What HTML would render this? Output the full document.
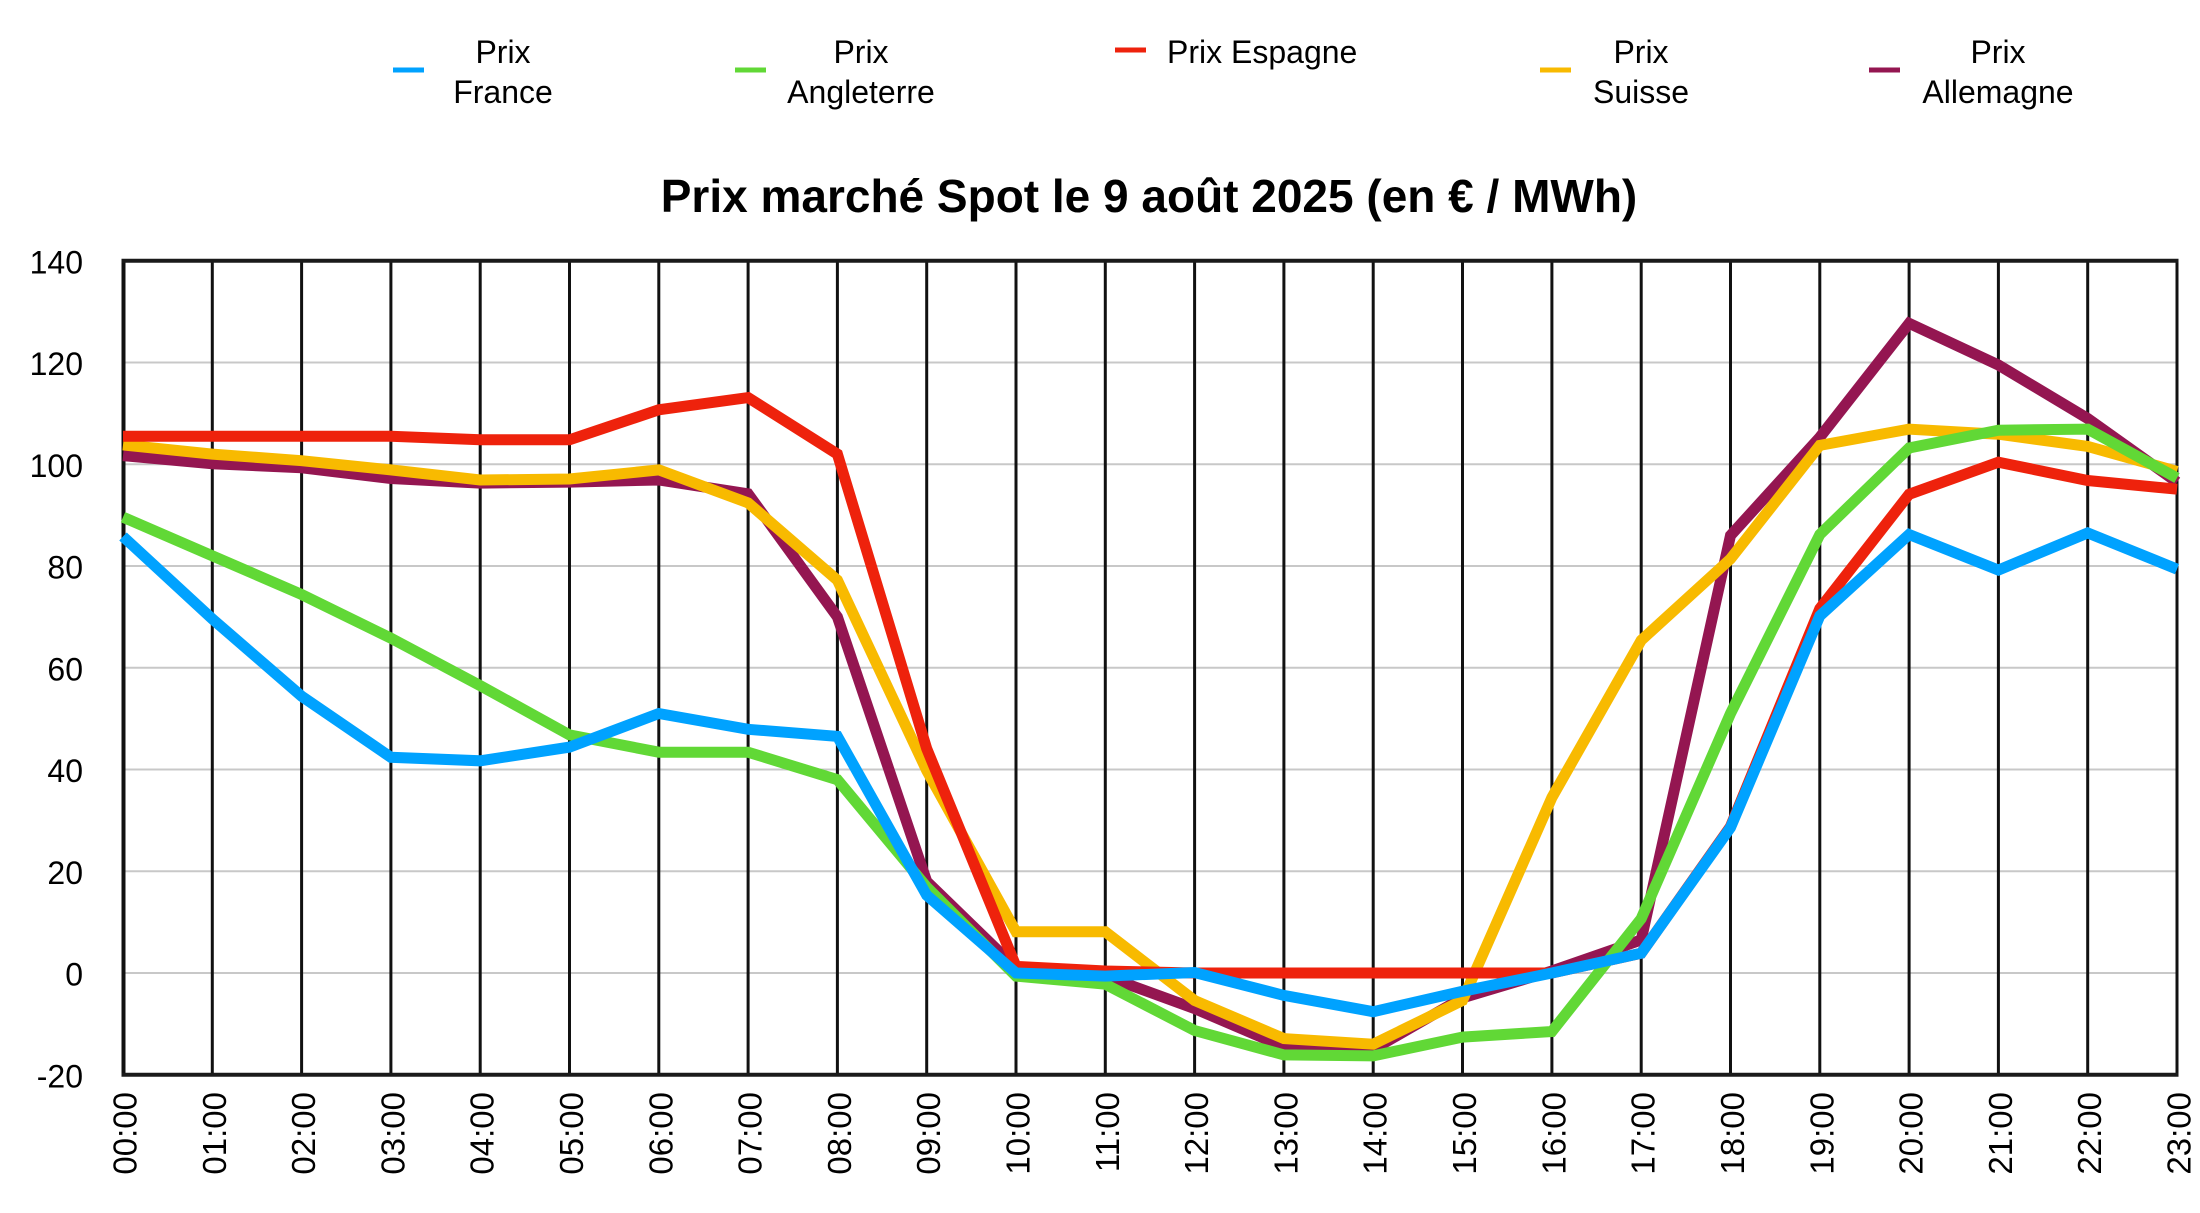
<!DOCTYPE html>
<html><head><meta charset="utf-8"><style>
html,body{margin:0;padding:0;background:#fff;}
svg{display:block;}
text{font-family:"Liberation Sans",Arial,sans-serif;fill:#000;}
</style></head><body>
<svg width="2200" height="1213" viewBox="0 0 2200 1213" xmlns="http://www.w3.org/2000/svg">
<rect width="2200" height="1213" fill="#fff"/>
<!-- Legend -->
<g font-size="32">
  <rect x="393" y="67.5" width="31" height="5" fill="#00A2FF"/>
  <text x="503" y="63" text-anchor="middle">Prix</text>
  <text x="503" y="103" text-anchor="middle">France</text>
  <rect x="735" y="67.5" width="31" height="5" fill="#61D836"/>
  <text x="861" y="63" text-anchor="middle">Prix</text>
  <text x="861" y="103" text-anchor="middle">Angleterre</text>
  <rect x="1115" y="47.5" width="31" height="5" fill="#EE220C"/>
  <text x="1167" y="63">Prix Espagne</text>
  <rect x="1540" y="67.5" width="31" height="5" fill="#F8BA00"/>
  <text x="1641" y="63" text-anchor="middle">Prix</text>
  <text x="1641" y="103" text-anchor="middle">Suisse</text>
  <rect x="1869" y="67.5" width="31" height="5" fill="#941651"/>
  <text x="1998" y="63" text-anchor="middle">Prix</text>
  <text x="1998" y="103" text-anchor="middle">Allemagne</text>
</g>
<!-- Title -->
<text x="1149" y="212" text-anchor="middle" font-size="46" font-weight="bold">Prix marché Spot le 9 août 2025 (en € / MWh)</text>
<!-- Horizontal gridlines -->
<g stroke="#c8c8c8" stroke-width="2">
  <line x1="123" x2="2177" y1="362.5" y2="362.5"/>
  <line x1="123" x2="2177" y1="464.25" y2="464.25"/>
  <line x1="123" x2="2177" y1="566" y2="566"/>
  <line x1="123" x2="2177" y1="667.75" y2="667.75"/>
  <line x1="123" x2="2177" y1="769.5" y2="769.5"/>
  <line x1="123" x2="2177" y1="871.25" y2="871.25"/>
  <line x1="123" x2="2177" y1="973" y2="973"/>
</g>
<!-- Vertical lines -->
<g stroke="#111" stroke-width="3">
  <line x1="123.5" x2="123.5" y1="260" y2="1076" stroke-width="4"/>
  <line x1="212.3" x2="212.3" y1="260" y2="1076"/>
  <line x1="301.6" x2="301.6" y1="260" y2="1076"/>
  <line x1="390.9" x2="390.9" y1="260" y2="1076"/>
  <line x1="480.2" x2="480.2" y1="260" y2="1076"/>
  <line x1="569.5" x2="569.5" y1="260" y2="1076"/>
  <line x1="658.8" x2="658.8" y1="260" y2="1076"/>
  <line x1="748.1" x2="748.1" y1="260" y2="1076"/>
  <line x1="837.4" x2="837.4" y1="260" y2="1076"/>
  <line x1="926.7" x2="926.7" y1="260" y2="1076"/>
  <line x1="1016" x2="1016" y1="260" y2="1076"/>
  <line x1="1105.3" x2="1105.3" y1="260" y2="1076"/>
  <line x1="1194.6" x2="1194.6" y1="260" y2="1076"/>
  <line x1="1283.9" x2="1283.9" y1="260" y2="1076"/>
  <line x1="1373.2" x2="1373.2" y1="260" y2="1076"/>
  <line x1="1462.5" x2="1462.5" y1="260" y2="1076"/>
  <line x1="1551.9" x2="1551.9" y1="260" y2="1076"/>
  <line x1="1641.2" x2="1641.2" y1="260" y2="1076"/>
  <line x1="1730.5" x2="1730.5" y1="260" y2="1076"/>
  <line x1="1819.8" x2="1819.8" y1="260" y2="1076"/>
  <line x1="1909.1" x2="1909.1" y1="260" y2="1076"/>
  <line x1="1998.4" x2="1998.4" y1="260" y2="1076"/>
  <line x1="2087.7" x2="2087.7" y1="260" y2="1076"/>
  <line x1="2177" x2="2177" y1="260" y2="1076"/>
</g>
<!-- Top / bottom borders -->
<g stroke="#1a1a1a" stroke-width="4">
  <line x1="121.5" x2="2178.5" y1="260.75" y2="260.75"/>
  <line x1="121.5" x2="2178.5" y1="1074.75" y2="1074.75"/>
</g>
<!-- Series -->
<g fill="none" stroke-width="11" stroke-linejoin="miter" stroke-linecap="butt">
  <polyline stroke="#941651" points="123,455.6 212.3,463.7 301.6,467.8 390.9,478.5 480.2,483.1 569.5,482.1 658.8,480 748.1,493.8 837.4,616.9 926.7,881.4 1016,967.9 1105.3,976.1 1194.6,1008.6 1283.9,1046.8 1373.2,1049.3 1462.5,997.9 1551.9,971 1641.2,939.9 1730.5,535.5 1819.8,437.3 1909.1,323.3 1998.4,365 2087.7,418.5 2177,482.1"/>
  <polyline stroke="#F8BA00" points="123,444.9 212.3,454.1 301.6,460.7 390.9,469.9 480.2,480 569.5,479 658.8,469.9 748.1,502.9 837.4,580.2 926.7,770.5 1016,931.8 1105.3,931.8 1194.6,1000.5 1283.9,1038.6 1373.2,1044.2 1462.5,1000.5 1551.9,797.5 1641.2,640.3 1730.5,558.9 1819.8,445.4 1909.1,429.1 1998.4,434.2 2087.7,446.4 2177,471.4"/>
  <polyline stroke="#EE220C" points="123,436.3 212.3,436.3 301.6,436.3 390.9,436.3 480.2,439.8 569.5,439.8 658.8,409.8 748.1,397.6 837.4,454.1 926.7,748.6 1016,966.4 1105.3,971 1194.6,973 1283.9,973 1373.2,973 1462.5,973 1551.9,973 1641.2,953.2 1730.5,826.5 1819.8,608.7 1909.1,494.3 1998.4,462.2 2087.7,480.5 2177,489.2"/>
  <polyline stroke="#61D836" points="123,517.2 212.3,555.8 301.6,594.5 390.9,638.2 480.2,685.6 569.5,734.9 658.8,752.2 748.1,752.2 837.4,779.7 926.7,887 1016,976.1 1105.3,984.2 1194.6,1030.5 1283.9,1054.9 1373.2,1055.9 1462.5,1037.1 1551.9,1031.5 1641.2,918.6 1730.5,713.5 1819.8,534.5 1909.1,448 1998.4,430.2 2087.7,429.1 2177,478"/>
  <polyline stroke="#00A2FF" points="123,536.5 212.3,618.9 301.6,696.2 390.9,757.3 480.2,760.8 569.5,747.1 658.8,713.5 748.1,729.3 837.4,736.4 926.7,895.2 1016,973 1105.3,976.1 1194.6,972.5 1283.9,995.4 1373.2,1011.7 1462.5,991.3 1551.9,973 1641.2,953.2 1730.5,827.5 1819.8,615.9 1909.1,534.5 1998.4,570.1 2087.7,532.9 2177,569.1"/>
</g>
<!-- Y axis labels -->
<g font-size="32" text-anchor="end">
  <text x="83" y="273.3">140</text>
  <text x="83" y="375">120</text>
  <text x="83" y="476.8">100</text>
  <text x="83" y="578.5">80</text>
  <text x="83" y="680.3">60</text>
  <text x="83" y="782">40</text>
  <text x="83" y="883.8">20</text>
  <text x="83" y="985.5">0</text>
  <text x="83" y="1087.3">-20</text>
</g>
<!-- X axis labels -->
<g font-size="33" text-anchor="end">
  <text transform="translate(136.5,1092) rotate(-90)">00:00</text>
  <text transform="translate(225.8,1092) rotate(-90)">01:00</text>
  <text transform="translate(315.1,1092) rotate(-90)">02:00</text>
  <text transform="translate(404.4,1092) rotate(-90)">03:00</text>
  <text transform="translate(493.7,1092) rotate(-90)">04:00</text>
  <text transform="translate(583,1092) rotate(-90)">05:00</text>
  <text transform="translate(672.3,1092) rotate(-90)">06:00</text>
  <text transform="translate(761.6,1092) rotate(-90)">07:00</text>
  <text transform="translate(850.9,1092) rotate(-90)">08:00</text>
  <text transform="translate(940.2,1092) rotate(-90)">09:00</text>
  <text transform="translate(1029.5,1092) rotate(-90)">10:00</text>
  <text transform="translate(1118.8,1092) rotate(-90)">11:00</text>
  <text transform="translate(1208.1,1092) rotate(-90)">12:00</text>
  <text transform="translate(1297.4,1092) rotate(-90)">13:00</text>
  <text transform="translate(1386.7,1092) rotate(-90)">14:00</text>
  <text transform="translate(1476,1092) rotate(-90)">15:00</text>
  <text transform="translate(1565.4,1092) rotate(-90)">16:00</text>
  <text transform="translate(1654.7,1092) rotate(-90)">17:00</text>
  <text transform="translate(1744,1092) rotate(-90)">18:00</text>
  <text transform="translate(1833.3,1092) rotate(-90)">19:00</text>
  <text transform="translate(1922.6,1092) rotate(-90)">20:00</text>
  <text transform="translate(2011.9,1092) rotate(-90)">21:00</text>
  <text transform="translate(2101.2,1092) rotate(-90)">22:00</text>
  <text transform="translate(2190.5,1092) rotate(-90)">23:00</text>
</g>
</svg>
</body></html>
